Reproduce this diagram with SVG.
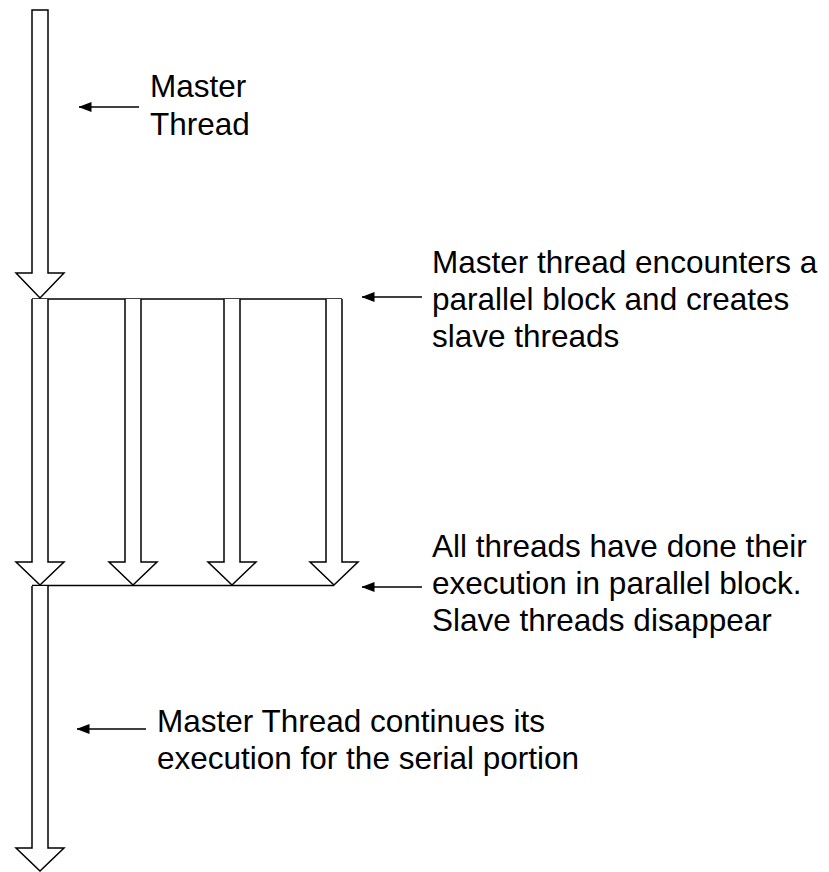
<svg xmlns="http://www.w3.org/2000/svg" width="829" height="872" viewBox="0 0 829 872">
  <style>
    .blk { fill: #fff; stroke: #000; stroke-width: 1.5; stroke-linejoin: miter; }
    .edge { fill: none; stroke: #000; stroke-width: 1.5; }
    .ptr { fill: none; stroke: #000; stroke-width: 1.3; }
    .lbl { font-family: "Liberation Sans", Arial, sans-serif; font-size: 31.5px; fill: #000; }
  </style>
  <defs>
    <marker id="head" viewBox="0 0 13 10" refX="12.5" refY="5" markerWidth="13" markerHeight="10" markerUnits="userSpaceOnUse" orient="auto">
      <path d="M0 0 L13 5 L0 10 Z" fill="#000"/>
    </marker>
  </defs>

  <rect width="829" height="872" fill="#fff"/>

  <!-- serial part before the parallel region -->
  <g id="master-serial-top">
    <path class="blk" d="M32 10 H48 V273 H64 L40 298 L16 273 H32 Z"/>
  </g>

  <!-- fork / join lines -->
  <g id="connectors">
    <path class="edge" d="M32 299 H342"/>
    <path class="edge" d="M32 585.5 H334"/>
  </g>

  <!-- threads inside the parallel block -->
  <g id="master-parallel">
    <path class="blk" d="M32 299 V562 H16 L40 585 L64 562 H48 V299"/>
  </g>
  <g id="slave-1">
    <path class="blk" d="M125 299 V562 H109 L133 585 L157 562 H141 V299"/>
  </g>
  <g id="slave-2">
    <path class="blk" d="M224 299 V562 H208 L232 585 L256 562 H240 V299"/>
  </g>
  <g id="slave-3">
    <path class="blk" d="M326 299 V562 H310 L334 585 L358 562 H342 V299"/>
  </g>

  <!-- serial part after the join -->
  <g id="master-serial-bottom">
    <path class="blk" d="M32 586 V848 H16 L40 871 L64 848 H48 V586"/>
  </g>

  <!-- annotations -->
  <g id="note-master">
    <line class="ptr" x1="139" y1="107" x2="79" y2="107" marker-end="url(#head)"/>
    <text class="lbl" x="150" y="97">Master</text>
    <text class="lbl" x="150" y="135">Thread</text>
  </g>
  <g id="note-fork">
    <line class="ptr" x1="422" y1="297" x2="362" y2="297" marker-end="url(#head)"/>
    <text class="lbl" x="432" y="273">Master thread encounters a</text>
    <text class="lbl" x="432" y="310">parallel block and creates</text>
    <text class="lbl" x="432" y="347">slave threads</text>
  </g>
  <g id="note-join">
    <line class="ptr" x1="422" y1="587" x2="362" y2="587" marker-end="url(#head)"/>
    <text class="lbl" x="432" y="557">All threads have done their</text>
    <text class="lbl" x="432" y="594">execution in parallel block.</text>
    <text class="lbl" x="432" y="631">Slave threads disappear</text>
  </g>
  <g id="note-continue">
    <line class="ptr" x1="146" y1="729" x2="77" y2="729" marker-end="url(#head)"/>
    <text class="lbl" x="157" y="732">Master Thread continues its</text>
    <text class="lbl" x="157" y="769">execution for the serial portion</text>
  </g>
</svg>
